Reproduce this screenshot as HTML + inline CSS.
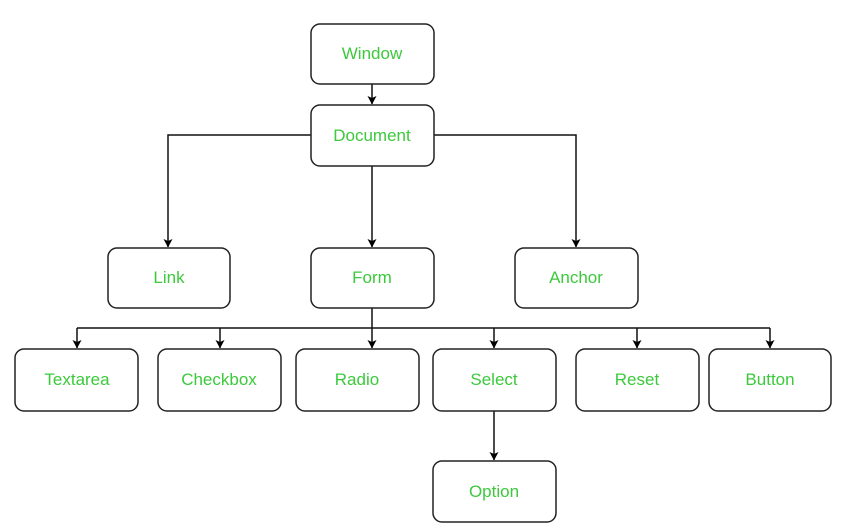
<!DOCTYPE html>
<html><head><meta charset="utf-8"><style>
html,body{margin:0;padding:0;background:#fff;width:845px;height:526px;overflow:hidden}
</style></head><body>
<svg width="845" height="526" viewBox="0 0 845 526" xmlns="http://www.w3.org/2000/svg">
<defs><marker id="a" markerWidth="10" markerHeight="10" refX="5" refY="9" orient="0" markerUnits="userSpaceOnUse"><path d="M0.5,1 L5,9.5 L9.5,1 L5,3 Z" fill="#000"/></marker></defs>
<g fill="none" stroke="#111" stroke-width="1.5">
<path d="M372,84 V104" marker-end="url(#a)"/>
<path d="M311,135 H168 V247" marker-end="url(#a)"/>
<path d="M434,135 H576 V247" marker-end="url(#a)"/>
<path d="M372,166 V247" marker-end="url(#a)"/>
<path d="M372,308 V348" marker-end="url(#a)"/>
<path d="M77,328 H770"/>
<path d="M77,328 V348" marker-end="url(#a)"/>
<path d="M220,328 V348" marker-end="url(#a)"/>
<path d="M494,328 V348" marker-end="url(#a)"/>
<path d="M637,328 V348" marker-end="url(#a)"/>
<path d="M770,328 V348" marker-end="url(#a)"/>
<path d="M494,411 V460" marker-end="url(#a)"/>
</g>
<g fill="#fff" stroke="#222" stroke-width="1.5">
<rect x="311" y="24" width="123" height="60" rx="9"/>
<rect x="311" y="105" width="123" height="61" rx="9"/>
<rect x="108" y="248" width="122" height="60" rx="9"/>
<rect x="311" y="248" width="123" height="60" rx="9"/>
<rect x="515" y="248" width="123" height="60" rx="9"/>
<rect x="15" y="349" width="123" height="62" rx="9"/>
<rect x="158" y="349" width="123" height="62" rx="9"/>
<rect x="296" y="349" width="123" height="62" rx="9"/>
<rect x="433" y="349" width="123" height="62" rx="9"/>
<rect x="576" y="349" width="123" height="62" rx="9"/>
<rect x="709" y="349" width="122" height="62" rx="9"/>
<rect x="433" y="461" width="123" height="61" rx="9"/>
</g>
<g fill="#3cc93c" font-family="Liberation Sans, sans-serif" font-size="17" text-anchor="middle">
<text x="372" y="59">Window</text>
<text x="372" y="141">Document</text>
<text x="169" y="283">Link</text>
<text x="372" y="283">Form</text>
<text x="576" y="283">Anchor</text>
<text x="77" y="385">Textarea</text>
<text x="219" y="385">Checkbox</text>
<text x="357" y="385">Radio</text>
<text x="494" y="385">Select</text>
<text x="637" y="385">Reset</text>
<text x="770" y="385">Button</text>
<text x="494" y="497">Option</text>
</g>
</svg>
</body></html>
